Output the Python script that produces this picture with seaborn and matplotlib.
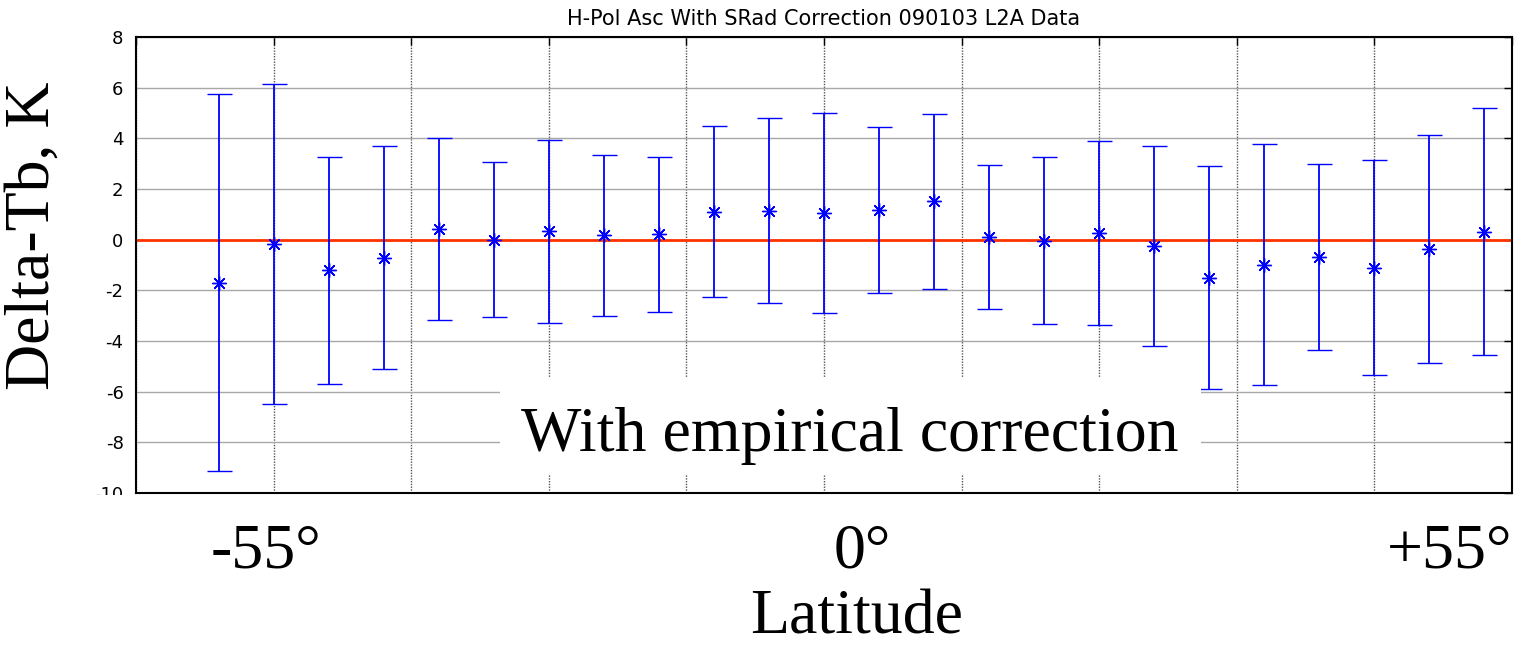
import numpy as np
import matplotlib
matplotlib.use("Agg")
import matplotlib.pyplot as plt
import seaborn as sns
from matplotlib.patches import Rectangle

# latitude bins and mean Delta-Tb with its spread (K)
lat = [-60.5, -55.0, -49.5, -44.0, -38.5, -33.0, -27.5, -22.0, -16.5, -11.0, -5.5, 0.0,
       5.5, 11.0, 16.5, 22.0, 27.5, 33.0, 38.5, 44.0, 49.5, 55.0, 60.5, 66.0]
delta_tb = [-1.70, -0.17, -1.21, -0.71, 0.42, 0.00, 0.33, 0.17, 0.22, 1.11, 1.15, 1.07,
            1.16, 1.52, 0.12, -0.04, 0.27, -0.26, -1.50, -0.98, -0.68, -1.10, -0.35, 0.32]
spread = [7.44, 6.31, 4.48, 4.39, 3.58, 3.05, 3.60, 3.18, 3.06, 3.37, 3.65, 3.95,
          3.28, 3.45, 2.84, 3.29, 3.63, 3.95, 4.39, 4.74, 3.68, 4.26, 4.50, 4.89]

lat_labels = ["-55°", "0°", "+55°"]
title = "H-Pol Asc With SRad Correction 090103 L2A Data"

sns.set_style("white")
plt.rcParams["font.family"] = ["DejaVu Sans"]
plt.rcParams["text.color"] = "black"
plt.rcParams["axes.unicode_minus"] = False
serif = ["Liberation Serif", "DejaVu Serif"]

fig = plt.figure(figsize=(15.2, 6.46), dpi=100)
ax = fig.add_axes([0.0895, 0.2368, 0.9052, 0.7059])

# grid: solid grey rows, dotted columns (matlab look)
ax.set_xlim(-68.75, 68.75)
ax.set_ylim(-10, 8)
ax.set_xticks(np.arange(-68.75, 68.8, 13.75))
ax.set_yticks(np.arange(-10, 9, 2))
ax.yaxis.grid(True, color="#a8a8a8", lw=1, ls="-")
ax.xaxis.grid(True, color="#555555", lw=1, ls=(0, (1, 1)))
ax.set_axisbelow(True)

ax.axhline(0, color="#ff3300", lw=2, zorder=2)

ax.errorbar(lat, delta_tb, yerr=spread, fmt="none", ecolor="#0000ff",
            elinewidth=1.3, capsize=9, capthick=1, zorder=3)
sns.scatterplot(x=lat, y=delta_tb, ax=ax, marker=(8, 2, 0), color="#0000ff",
                s=100, linewidth=1, zorder=4)

ax.set_xticklabels([])
ax.tick_params(axis="both", direction="in", length=6, width=1, color="black",
               labelcolor="black", top=True, right=True, labelsize=13, pad=9)
for sp in ax.spines.values():
    sp.set_color("black")
    sp.set_linewidth(1.5)

ax.set_title(title, fontsize=15, pad=9, color="black")

# white panel behind the annotation inside the axes
ax.add_patch(Rectangle((0.2645, 0.0395), 0.5095, 0.2125, transform=ax.transAxes,
                       facecolor="white", edgecolor="none", zorder=5))
fig.text(850 / 1520, 1 - 451 / 646, "With empirical correction",
         family=serif, fontsize=46, ha="center", va="baseline", zorder=11)

# white band over the original tick labels
fig.patches.append(Rectangle((0, 0), 1, 1 - 494.5 / 646, transform=fig.transFigure,
                             facecolor="white", edgecolor="none", zorder=10))

for lab, px in zip(lat_labels, [266, 862, 1450]):
    fig.text(px / 1520, 1 - 568 / 646, lab, family=serif, fontsize=46,
             ha="center", va="baseline", zorder=11)
fig.text(857 / 1520, 1 - 634 / 646, "Latitude", family=serif, fontsize=46,
         ha="center", va="baseline", zorder=11)
fig.text(34 / 1520, 1 - 236 / 646, "Delta-Tb, K", family=serif, fontsize=46,
         rotation=90, ha="center", va="center", zorder=11)

fig.savefig("out.png", dpi=100)
